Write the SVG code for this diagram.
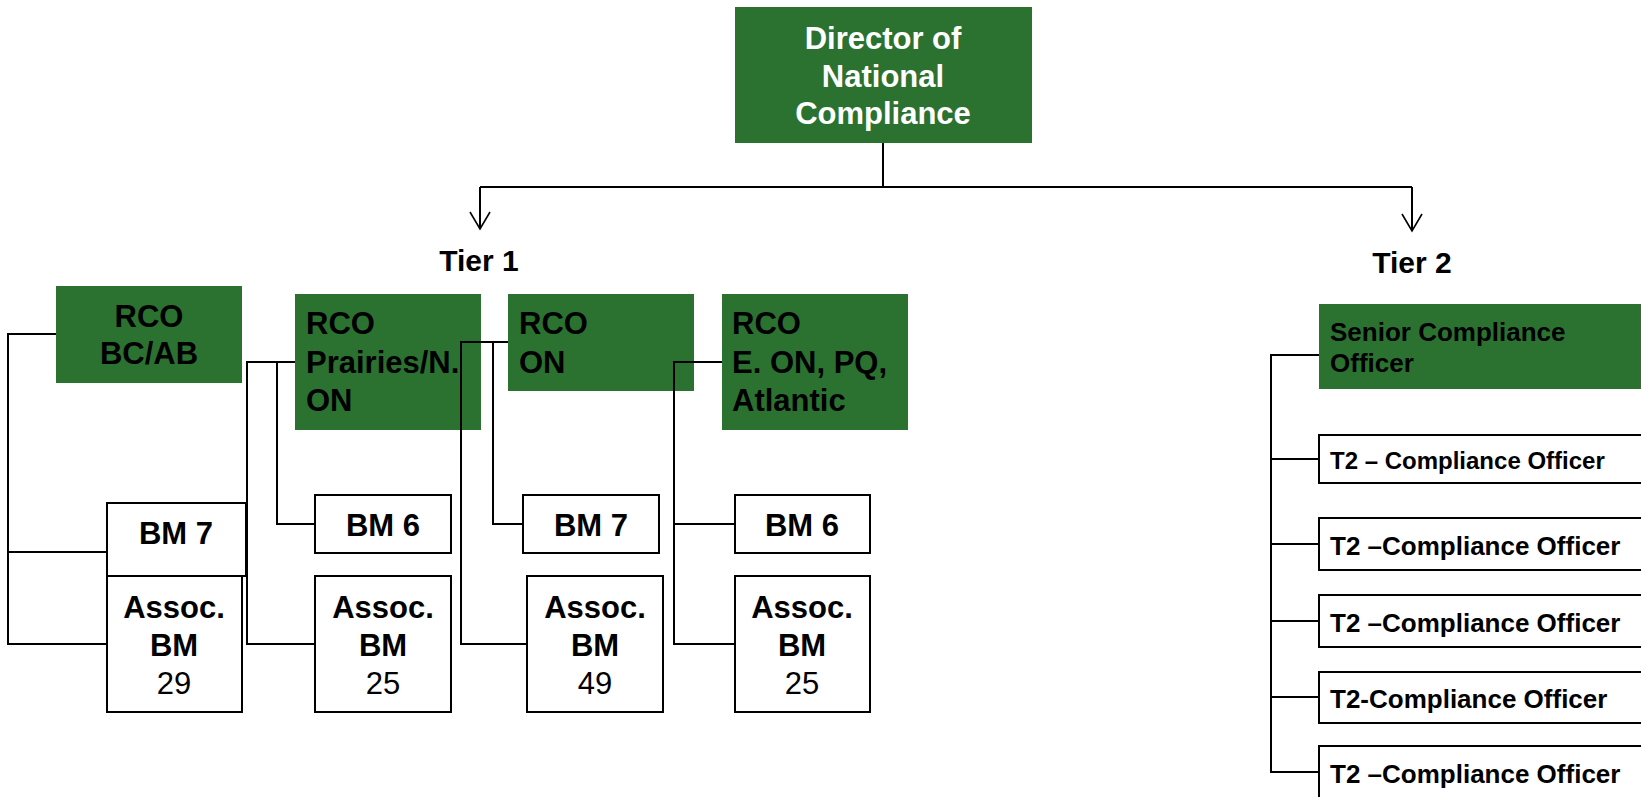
<svg xmlns="http://www.w3.org/2000/svg" width="1641" height="797" viewBox="0 0 1641 797">
<defs>
<style>
.g{fill:#2B7231;}
.w{fill:#ffffff;stroke:#000000;stroke-width:2;}
.t{font-family:"Liberation Sans",Arial,sans-serif;font-weight:bold;font-size:31px;fill:#000000;}
.tw{font-family:"Liberation Sans",Arial,sans-serif;font-weight:bold;font-size:31px;fill:#ffffff;}
.n{font-family:"Liberation Sans",Arial,sans-serif;font-weight:normal;font-size:31px;fill:#000000;}
.s{font-family:"Liberation Sans",Arial,sans-serif;font-weight:bold;font-size:26px;fill:#000000;}
.c{text-anchor:middle;}
.ln{fill:none;stroke:#000000;stroke-width:2;}
</style>
<marker id="arr" markerUnits="userSpaceOnUse" markerWidth="22" markerHeight="24" refX="17" refY="10" orient="auto" overflow="visible">
<path d="M0,0 L17,10 L0,20" fill="none" stroke="#000000" stroke-width="1.6"/>
</marker>
</defs>
<rect x="0" y="0" width="1641" height="797" fill="#ffffff"/>

<g id="director">
<rect class="g" x="735" y="7" width="297" height="136"/>
<text class="tw c" x="883" y="49">Director of</text>
<text class="tw c" x="883" y="87">National</text>
<text class="tw c" x="883" y="124">Compliance</text>
</g>

<g id="tier1-label"><text class="t c" x="479" y="271" style="font-size:30px">Tier 1</text></g>
<g id="tier2-label"><text class="t c" x="1412" y="273" style="font-size:30px">Tier 2</text></g>

<g id="rco-bcab">
<rect class="g" x="56" y="286" width="186" height="97"/>
<text class="t c" x="149" y="327">RCO</text>
<text class="t c" x="149" y="364">BC/AB</text>
</g>
<g id="rco-prairies">
<rect class="g" x="295" y="294" width="186" height="136"/>
<text class="t" x="306" y="334">RCO</text>
<text class="t" x="306" y="373">Prairies/N.</text>
<text class="t" x="306" y="411">ON</text>
</g>
<g id="rco-on">
<rect class="g" x="508" y="294" width="186" height="97"/>
<text class="t" x="519" y="334">RCO</text>
<text class="t" x="519" y="373">ON</text>
</g>
<g id="rco-eon">
<rect class="g" x="722" y="294" width="186" height="136"/>
<text class="t" x="732" y="334">RCO</text>
<text class="t" x="732" y="373">E. ON, PQ,</text>
<text class="t" x="732" y="411">Atlantic</text>
</g>

<g id="bm7-a">
<rect class="w" x="107" y="503" width="139" height="73"/>
<text class="t c" x="176" y="544">BM 7</text>
</g>
<g id="assoc-29">
<rect class="w" x="107" y="576" width="135" height="136"/>
<text class="t c" x="174" y="618">Assoc.</text>
<text class="t c" x="174" y="656">BM</text>
<text class="n c" x="174" y="694">29</text>
</g>
<g id="bm6-a">
<rect class="w" x="315" y="495" width="136" height="58"/>
<text class="t c" x="383" y="536">BM 6</text>
</g>
<g id="assoc-25a">
<rect class="w" x="315" y="576" width="136" height="136"/>
<text class="t c" x="383" y="618">Assoc.</text>
<text class="t c" x="383" y="656">BM</text>
<text class="n c" x="383" y="694">25</text>
</g>
<g id="bm7-b">
<rect class="w" x="523" y="495" width="136" height="58"/>
<text class="t c" x="591" y="536">BM 7</text>
</g>
<g id="assoc-49">
<rect class="w" x="527" y="576" width="136" height="136"/>
<text class="t c" x="595" y="618">Assoc.</text>
<text class="t c" x="595" y="656">BM</text>
<text class="n c" x="595" y="694">49</text>
</g>
<g id="bm6-b">
<rect class="w" x="735" y="495" width="135" height="58"/>
<text class="t c" x="802" y="536">BM 6</text>
</g>
<g id="assoc-25b">
<rect class="w" x="735" y="576" width="135" height="136"/>
<text class="t c" x="802" y="618">Assoc.</text>
<text class="t c" x="802" y="656">BM</text>
<text class="n c" x="802" y="694">25</text>
</g>

<g id="senior">
<rect class="g" x="1319" y="304" width="340" height="85"/>
<text class="s" x="1330" y="341">Senior Compliance</text>
<text class="s" x="1330" y="372">Officer</text>
</g>
<g id="t2-1">
<rect class="w" x="1319" y="435" width="340" height="48"/>
<text class="s" x="1330" y="469" style="font-size:24px">T2 – Compliance Officer</text>
</g>
<g id="t2-2">
<rect class="w" x="1319" y="518" width="340" height="52"/>
<text class="s" x="1330" y="555">T2 –Compliance Officer</text>
</g>
<g id="t2-3">
<rect class="w" x="1319" y="595" width="340" height="52"/>
<text class="s" x="1330" y="632">T2 –Compliance Officer</text>
</g>
<g id="t2-4">
<rect class="w" x="1319" y="672" width="340" height="51"/>
<text class="s" x="1330" y="708">T2-Compliance Officer</text>
</g>
<g id="t2-5">
<rect class="w" x="1319" y="746" width="340" height="60"/>
<text class="s" x="1330" y="783">T2 –Compliance Officer</text>
</g>

<g id="connectors">
<path class="ln" d="M883,143 V187"/>
<path class="ln" d="M480,187 H1412"/>
<path class="ln" d="M480,187 V229" marker-end="url(#arr)"/>
<path class="ln" d="M1412,187 V231" marker-end="url(#arr)"/>
<path class="ln" d="M56,334 H8 V644 H107"/>
<path class="ln" d="M8,552 H107"/>
<path class="ln" d="M295,362 H247 V644 H315"/>
<path class="ln" d="M277,362 V524 H315"/>
<path class="ln" d="M508,342 H461 V644 H527"/>
<path class="ln" d="M493,342 V524 H523"/>
<path class="ln" d="M722,362 H674 V644 H735"/>
<path class="ln" d="M674,524 H735"/>
<path class="ln" d="M1319,355 H1271 V772 H1319"/>
<path class="ln" d="M1271,459 H1319"/>
<path class="ln" d="M1271,544 H1319"/>
<path class="ln" d="M1271,621 H1319"/>
<path class="ln" d="M1271,697 H1319"/>
</g>
</svg>
